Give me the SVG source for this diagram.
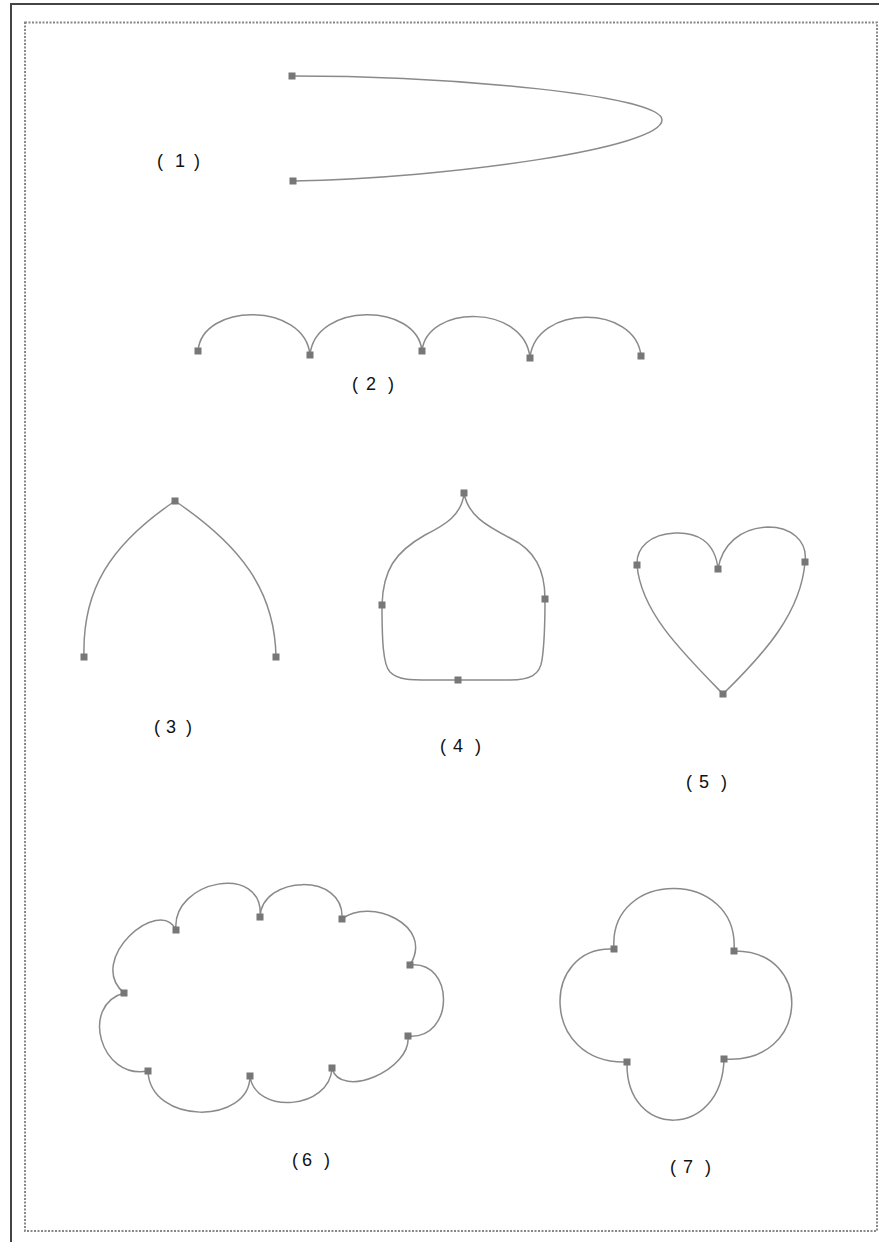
<svg xmlns="http://www.w3.org/2000/svg" width="879" height="1242" viewBox="0 0 879 1242">
<defs>
<style>
.curve{fill:none;stroke:#8a8a8a;stroke-width:1.5}
.pt{fill:#777}
.lbl{font-family:"Liberation Sans","Noto Sans CJK SC",sans-serif;font-size:18px;fill:#111}
</style>
<rect id="sq" x="-3.5" y="-3.5" width="7" height="7" class="pt"/>
</defs>
<rect width="879" height="1242" fill="#fff"/>
<rect x="11" y="4" width="880" height="1250" fill="none" stroke="#444" stroke-width="2"/>
<rect x="25" y="22.5" width="852" height="1208.5" fill="none" stroke="#888" stroke-width="2" stroke-dasharray="2,1.5"/>
<g id="connectors">
<path class="curve" d="M292,76 C450,76 662,95 662,120 C662,148 450,178 293,181"/>
<path class="curve" d="M198,351 C202,302 305,302 310,355 C315,302 417,302 422,351 C427,304 525,304 530,358 C535,304 636,304 641,356"/>
<path class="curve" d="M84,657 C82,590 110,545 175,501 C240,545 275,590 276,657"/>
<path class="curve" d="M464,493 C462,515 445,525 425,535 C395,552 383,570 382,605 C382,640 383,665 390,672 C398,680 410,680 430,680 L510,680 C530,680 540,675 542,660 C545,640 545,620 545,599 C545,570 535,550 510,538 C485,525 468,515 464,493 Z"/>
<path class="curve" d="M718,569 C715,540 695,532 675,533 C650,534 636,548 637,565 C641,612 682,652 723,694 C766,652 801,612 805,562 C808,540 790,527 768,527 C740,528 722,545 718,569 Z"/>
<path class="curve" d="M176,930 C171,880 265,862 260,917 C262,875 345,872 342,919 C370,897 435,925 410,965 C455,960 455,1040 408,1036 C412,1070 340,1100 332,1068 C330,1110 255,1115 250,1076 C250,1125 150,1125 148,1071 C100,1080 80,1005 124,993 C85,960 160,895 176,930 Z"/>
<path class="curve" d="M614,949 C608,868 740,868 734,951 C815,950 810,1065 724,1059 C722,1140 625,1140 627,1062 C540,1065 540,945 614,949 Z"/>
</g>
<g id="node1">
<use href="#sq" x="292" y="76"/><use href="#sq" x="293" y="181"/>
<text class="lbl" x="157 175 194" y="167">(1)</text>
</g>
<g id="node2">
<use href="#sq" x="198" y="351"/><use href="#sq" x="310" y="355"/><use href="#sq" x="422" y="351"/><use href="#sq" x="530" y="358"/><use href="#sq" x="641" y="356"/>
<text class="lbl" x="352 366 388" y="390">(2)</text>
</g>
<g id="node3">
<use href="#sq" x="175" y="501"/><use href="#sq" x="84" y="657"/><use href="#sq" x="276" y="657"/>
<text class="lbl" x="154 166 186" y="733">(3)</text>
</g>
<g id="node4">
<use href="#sq" x="464" y="493"/><use href="#sq" x="382" y="605"/><use href="#sq" x="545" y="599"/><use href="#sq" x="458" y="680"/>
<text class="lbl" x="440 453 475" y="752">(4)</text>
</g>
<g id="node5">
<use href="#sq" x="637" y="565"/><use href="#sq" x="718" y="569"/><use href="#sq" x="805" y="562"/><use href="#sq" x="723" y="694"/>
<text class="lbl" x="686 699 721" y="788">(5)</text>
</g>
<g id="node6">
<use href="#sq" x="176" y="930"/><use href="#sq" x="260" y="917"/><use href="#sq" x="342" y="919"/><use href="#sq" x="410" y="965"/><use href="#sq" x="408" y="1036"/><use href="#sq" x="332" y="1068"/><use href="#sq" x="250" y="1076"/><use href="#sq" x="148" y="1071"/><use href="#sq" x="124" y="993"/>
<text class="lbl" x="292 302 324" y="1166">(6)</text>
</g>
<g id="node7">
<use href="#sq" x="614" y="949"/><use href="#sq" x="734" y="951"/><use href="#sq" x="724" y="1059"/><use href="#sq" x="627" y="1062"/>
<text class="lbl" x="670 683 705" y="1173">(7)</text>
</g>
</svg>
